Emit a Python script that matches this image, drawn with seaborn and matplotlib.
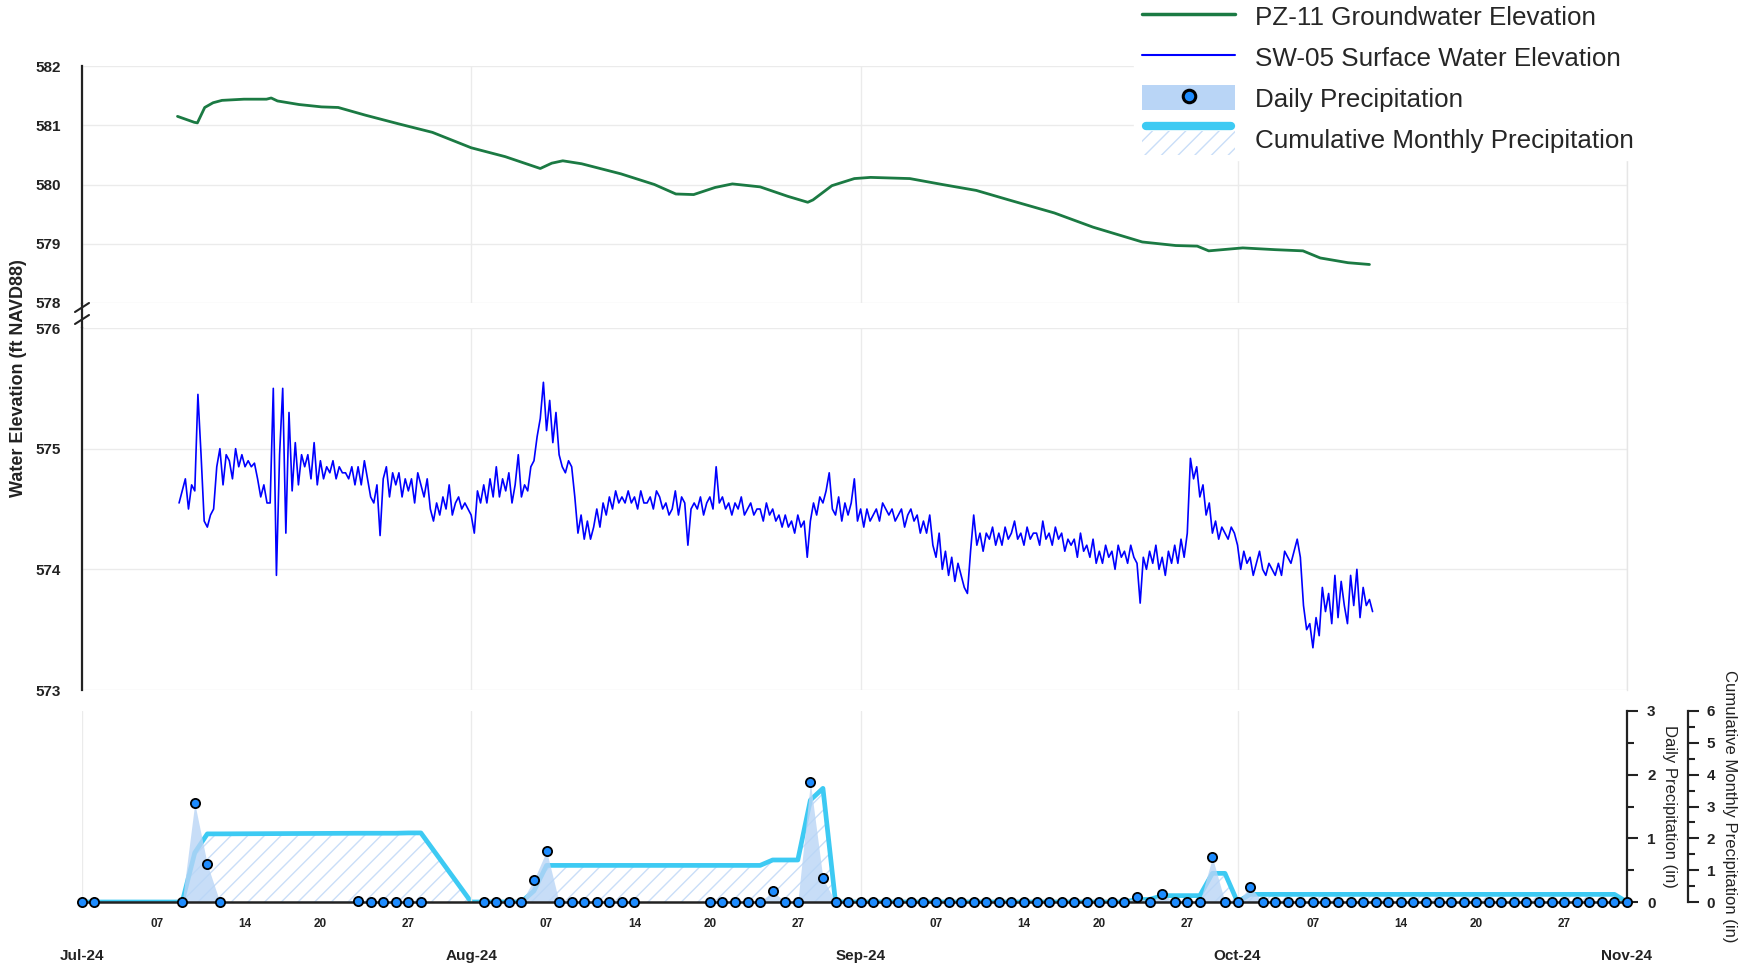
import matplotlib
matplotlib.use("Agg")
import matplotlib.pyplot as plt
import matplotlib.dates as mdates
from matplotlib.lines import Line2D
from matplotlib.patches import Patch, Rectangle
from matplotlib.legend_handler import HandlerBase
from matplotlib.ticker import MultipleLocator, FixedLocator
import seaborn as sns
import pandas as pd

# ---- PZ-11 groundwater elevation (ft NAVD88) ----
gw_time = ["07-08 15:00", "07-09 23:00", "07-10 05:00", "07-10 19:00", "07-11 11:00",
           "07-12 04:00", "07-13 22:00", "07-15 17:00", "07-16 02:00", "07-16 14:00",
           "07-18 07:00", "07-20 02:00", "07-21 10:00", "07-23 14:00", "07-26 07:00",
           "07-28 22:00", "08-01 00:00", "08-03 17:00", "08-06 12:00", "08-07 10:00",
           "08-08 07:00", "08-09 19:00", "08-12 22:00", "08-15 14:00", "08-17 07:00",
           "08-18 17:00", "08-20 10:00", "08-21 19:00", "08-24 00:00", "08-26 05:00",
           "08-27 19:00", "08-28 05:00", "08-29 17:00", "08-31 12:00", "09-01 19:00",
           "09-04 22:00", "09-07 12:00", "09-10 05:00", "09-12 19:00", "09-16 10:00",
           "09-19 12:00", "09-23 10:00", "09-26 02:00", "09-27 19:00", "09-28 17:00",
           "10-01 10:00", "10-04 00:00", "10-06 05:00", "10-07 14:00", "10-09 19:00",
           "10-11 12:00"]
gw_level = [581.15, 581.05, 581.04, 581.30, 581.38,
            581.42, 581.44, 581.44, 581.46, 581.41,
            581.35, 581.31, 581.30, 581.17, 581.02,
            580.88, 580.62, 580.47, 580.27, 580.36,
            580.40, 580.35, 580.18, 580.00, 579.84,
            579.83, 579.95, 580.01, 579.96, 579.80,
            579.70, 579.74, 579.98, 580.10, 580.12,
            580.10, 580.00, 579.90, 579.74, 579.52,
            579.28, 579.03, 578.97, 578.96, 578.88,
            578.93, 578.90, 578.88, 578.76, 578.68,
            578.65]

# ---- SW-05 surface water elevation, 6-hourly from Jul 8 18:00 ----
sw_start = "2024-07-08 18:00"
sw_level = [
    574.55,
    574.65, 574.75, 574.50, 574.70,   # Jul 9
    574.65, 575.45, 574.95, 574.40,   # Jul 10
    574.35, 574.45, 574.50, 574.85,   # Jul 11
    575.00, 574.70, 574.95, 574.90,   # Jul 12
    574.75, 575.00, 574.85, 574.95,   # Jul 13
    574.85, 574.90, 574.85, 574.88,   # Jul 14
    574.75, 574.60, 574.70, 574.55,   # Jul 15
    574.55, 575.50, 573.95, 574.95,   # Jul 16
    575.50, 574.30, 575.30, 574.65,   # Jul 17
    575.05, 574.70, 574.95, 574.85,   # Jul 18
    574.95, 574.75, 575.05, 574.70,   # Jul 19
    574.90, 574.75, 574.85, 574.80,   # Jul 20
    574.90, 574.75, 574.85, 574.80,   # Jul 21
    574.80, 574.75, 574.85, 574.70,   # Jul 22
    574.85, 574.70, 574.90, 574.75,   # Jul 23
    574.60, 574.55, 574.70, 574.28,   # Jul 24
    574.75, 574.85, 574.60, 574.80,   # Jul 25
    574.70, 574.80, 574.60, 574.75,   # Jul 26
    574.65, 574.75, 574.55, 574.80,   # Jul 27
    574.70, 574.60, 574.75, 574.50,   # Jul 28
    574.40, 574.55, 574.45, 574.60,   # Jul 29
    574.50, 574.70, 574.45, 574.55,   # Jul 30
    574.60, 574.50, 574.55, 574.50,   # Jul 31
    574.45, 574.30, 574.65, 574.55,   # Aug 1
    574.70, 574.55, 574.75, 574.60,   # Aug 2
    574.85, 574.60, 574.75, 574.65,   # Aug 3
    574.80, 574.55, 574.70, 574.95,   # Aug 4
    574.60, 574.70, 574.65, 574.85,   # Aug 5
    574.90, 575.10, 575.25, 575.55,   # Aug 6
    575.15, 575.40, 575.05, 575.30,   # Aug 7
    574.95, 574.85, 574.80, 574.90,   # Aug 8
    574.85, 574.60, 574.30, 574.45,   # Aug 9
    574.25, 574.40, 574.25, 574.35,   # Aug 10
    574.50, 574.35, 574.55, 574.45,   # Aug 11
    574.60, 574.50, 574.65, 574.55,   # Aug 12
    574.60, 574.55, 574.65, 574.55,   # Aug 13
    574.60, 574.50, 574.65, 574.55,   # Aug 14
    574.55, 574.60, 574.50, 574.65,   # Aug 15
    574.60, 574.50, 574.55, 574.45,   # Aug 16
    574.50, 574.65, 574.45, 574.60,   # Aug 17
    574.55, 574.20, 574.50, 574.55,   # Aug 18
    574.50, 574.60, 574.45, 574.55,   # Aug 19
    574.60, 574.50, 574.85, 574.55,   # Aug 20
    574.60, 574.50, 574.55, 574.45,   # Aug 21
    574.55, 574.50, 574.60, 574.45,   # Aug 22
    574.50, 574.55, 574.45, 574.50,   # Aug 23
    574.50, 574.40, 574.55, 574.45,   # Aug 24
    574.50, 574.40, 574.45, 574.35,   # Aug 25
    574.45, 574.35, 574.40, 574.30,   # Aug 26
    574.45, 574.35, 574.40, 574.10,   # Aug 27
    574.40, 574.55, 574.45, 574.60,   # Aug 28
    574.55, 574.65, 574.80, 574.50,   # Aug 29
    574.45, 574.60, 574.40, 574.55,   # Aug 30
    574.45, 574.55, 574.75, 574.40,   # Aug 31
    574.50, 574.35, 574.50, 574.40,   # Sep 1
    574.45, 574.50, 574.40, 574.55,   # Sep 2
    574.50, 574.45, 574.50, 574.40,   # Sep 3
    574.45, 574.50, 574.35, 574.45,   # Sep 4
    574.50, 574.40, 574.45, 574.30,   # Sep 5
    574.40, 574.30, 574.45, 574.20,   # Sep 6
    574.10, 574.30, 574.00, 574.15,   # Sep 7
    573.95, 574.10, 573.90, 574.05,   # Sep 8
    573.95, 573.85, 573.80, 574.15,   # Sep 9
    574.45, 574.20, 574.30, 574.15,   # Sep 10
    574.30, 574.25, 574.35, 574.20,   # Sep 11
    574.30, 574.20, 574.35, 574.25,   # Sep 12
    574.30, 574.40, 574.25, 574.30,   # Sep 13
    574.20, 574.35, 574.25, 574.30,   # Sep 14
    574.30, 574.20, 574.40, 574.25,   # Sep 15
    574.30, 574.20, 574.35, 574.25,   # Sep 16
    574.30, 574.15, 574.25, 574.20,   # Sep 17
    574.25, 574.10, 574.30, 574.15,   # Sep 18
    574.20, 574.10, 574.25, 574.05,   # Sep 19
    574.15, 574.05, 574.20, 574.10,   # Sep 20
    574.15, 574.00, 574.20, 574.10,   # Sep 21
    574.15, 574.05, 574.20, 574.10,   # Sep 22
    574.05, 573.72, 574.10, 574.00,   # Sep 23
    574.15, 574.05, 574.20, 574.00,   # Sep 24
    574.10, 573.95, 574.15, 574.05,   # Sep 25
    574.20, 574.05, 574.25, 574.10,   # Sep 26
    574.30, 574.92, 574.75, 574.85,   # Sep 27
    574.60, 574.70, 574.45, 574.55,   # Sep 28
    574.30, 574.40, 574.25, 574.35,   # Sep 29
    574.30, 574.25, 574.35, 574.30,   # Sep 30
    574.20, 574.00, 574.15, 574.05,   # Oct 1
    574.10, 573.95, 574.05, 574.15,   # Oct 2
    574.00, 573.95, 574.05, 574.00,   # Oct 3
    573.95, 574.05, 573.95, 574.15,   # Oct 4
    574.10, 574.05, 574.15, 574.25,   # Oct 5
    574.10, 573.70, 573.50, 573.55,   # Oct 6
    573.35, 573.60, 573.45, 573.85,   # Oct 7
    573.65, 573.80, 573.55, 573.95,   # Oct 8
    573.60, 573.90, 573.70, 573.55,   # Oct 9
    573.95, 573.70, 574.00, 573.60,   # Oct 10
    573.85, 573.70, 573.75, 573.65,   # Oct 11
]

# ---- daily precipitation (in) ----
precip_date = (["07-01", "07-02", "07-09", "07-10", "07-11", "07-12",
                "07-23", "07-24", "07-25", "07-26", "07-27", "07-28"]
               + ["08-%02d" % d for d in range(2, 15)]
               + ["08-%02d" % d for d in range(20, 32)]
               + ["09-%02d" % d for d in range(1, 31)]
               + ["10-%02d" % d for d in range(1, 32)]
               + ["11-01"])
precip_daily = ([0, 0, 0, 1.55, 0.59, 0, 0.02, 0, 0, 0, 0, 0]
                + [0, 0, 0, 0, 0.35, 0.80, 0, 0, 0, 0, 0, 0, 0]
                + [0, 0, 0, 0, 0, 0.17, 0, 0, 1.88, 0.37, 0, 0]
                + [0, 0, 0, 0, 0, 0, 0, 0, 0, 0, 0, 0, 0, 0, 0,
                   0, 0, 0, 0, 0, 0, 0, 0.08, 0, 0.12, 0, 0, 0, 0.70, 0]
                + [0, 0.24, 0, 0, 0, 0, 0, 0, 0, 0, 0, 0, 0, 0, 0, 0,
                   0, 0, 0, 0, 0, 0, 0, 0, 0, 0, 0, 0, 0, 0, 0]
                + [0])

# ---- cumulative monthly precipitation (in) ----
cum_date = (["07-01", "07-02", "07-09", "07-10", "07-11", "07-12",
             "07-23", "07-24", "07-25", "07-26", "07-27", "07-28"]
            + ["08-%02d" % d for d in range(1, 15)]
            + ["08-%02d" % d for d in range(20, 32)]
            + ["09-%02d" % d for d in range(1, 31)]
            + ["10-%02d" % d for d in range(1, 32)]
            + ["11-01"])
cum_monthly = ([0, 0, 0, 1.55, 2.14, 2.14, 2.16, 2.16, 2.16, 2.16, 2.17, 2.17]
               + [0, 0, 0, 0, 0, 0.35, 1.15, 1.15, 1.15, 1.15, 1.15, 1.15, 1.15, 1.15]
               + [1.15, 1.15, 1.15, 1.15, 1.15, 1.32, 1.32, 1.32, 3.20, 3.57, 0, 0]
               + [0, 0, 0, 0, 0, 0, 0, 0, 0, 0, 0, 0, 0, 0, 0,
                  0, 0, 0, 0, 0, 0, 0, 0.08, 0.08, 0.20, 0.20, 0.20, 0.20, 0.90, 0.90]
               + [0] + [0.24] * 30
               + [0])

day_ticks = [7, 14, 20, 27]

GREEN = "#1b7a43"
BLUE = "#0000ff"
DOT = "#1e8cff"
FILL = "#b9d5f6"
CUM = "#3dcaf3"
HATCH = "#c9def8"
GRID = "#ebebeb"
INK = "#222222"

sns.set_style("white")
plt.rcParams["font.family"] = ["Liberation Sans", "DejaVu Sans"]
plt.rcParams["font.weight"] = "bold"
plt.rcParams["hatch.linewidth"] = 1.0

gw_t = pd.to_datetime(["2024-" + s for s in gw_time])
sw_t = pd.date_range(sw_start, periods=len(sw_level), freq="6h")
pr_t = pd.to_datetime(["2024-" + s for s in precip_date])
cu_t = pd.to_datetime(["2024-" + s for s in cum_date])

W, H = 1739, 966
fig = plt.figure(figsize=(W / 100, H / 100), dpi=100)


def px_axes(left, top, right, bottom):
    return fig.add_axes([left / W, 1 - bottom / H, (right - left) / W, (bottom - top) / H])


ax_top = px_axes(81.7, 66, 1627, 303)
ax_mid = px_axes(81.7, 328, 1627, 690)
ax_bot = px_axes(81.7, 711, 1627, 902)

x0, x1 = pd.Timestamp("2024-07-01"), pd.Timestamp("2024-11-01")

# water level panels (broken axis)
sns.lineplot(x=gw_t, y=gw_level, ax=ax_top, color=GREEN, linewidth=2.0)
sns.lineplot(x=sw_t, y=sw_level, ax=ax_mid, color=BLUE, linewidth=1.2)

for ax, lo, hi in [(ax_top, 578, 582), (ax_mid, 573, 576)]:
    ax.set_xlim(x0, x1)
    ax.set_ylim(lo, hi)
    ax.set_xlabel("")
    ax.set_ylabel("")
    ax.yaxis.set_major_locator(MultipleLocator(1))
    ax.yaxis.set_minor_locator(MultipleLocator(0.5))
    ax.xaxis.set_major_locator(mdates.MonthLocator())
    ax.tick_params(axis="x", length=0, labelbottom=False)
    ax.tick_params(axis="y", which="major", direction="out", length=8.5, width=1.5,
                   labelsize=11, pad=6.5, colors=INK)
    ax.tick_params(axis="y", which="minor", direction="out", length=4.8, width=1.5, colors=INK)
    ax.grid(True, which="major", color=GRID, linewidth=1)
    ax.spines["left"].set_linewidth(1.6)
    ax.spines["left"].set_color(INK)
    ax.spines["right"].set_color("#e6e6e6")
    ax.spines["right"].set_linewidth(1)
    ax.spines["top"].set_visible(False)
    ax.spines["bottom"].set_visible(False)

# break marks on the shared left spine
fig.add_artist(Line2D([81.7 / W] * 2, [1 - 303 / H, 1 - 328 / H], color=INK, lw=1.6))
fig.add_artist(Line2D([1627 / W] * 2, [1 - 303 / H, 1 - 328 / H], color="#e6e6e6", lw=1))
for yb in (312, 324):
    fig.add_artist(Line2D([75 / W, 89 / W], [1 - yb / H, 1 - (yb - 9) / H], color=INK, lw=1.5))

# precipitation panel
ax_cum = ax_bot.twinx()
ax_bot.yaxis.tick_right()
ax_bot.set_zorder(ax_cum.get_zorder() + 1)
ax_bot.patch.set_visible(False)

ax_cum.fill_between(cu_t, cum_monthly, facecolor="none", edgecolor=HATCH, hatch="//", linewidth=0)
sns.lineplot(x=cu_t, y=cum_monthly, ax=ax_cum, color=CUM, linewidth=3.4)
ax_cum.lines[-1].set_solid_joinstyle("round")

ax_bot.fill_between(pr_t, precip_daily, color=FILL, alpha=0.8, linewidth=0)
sns.scatterplot(x=pr_t, y=precip_daily, ax=ax_bot, color=DOT, edgecolor="black",
                linewidth=1.3, s=44, zorder=5, clip_on=False)

ax_bot.set_xlim(x0, x1)
ax_bot.set_ylim(0, 3)
ax_cum.set_ylim(0, 6)
for ax in (ax_bot, ax_cum):
    ax.set_xlabel("")
    ax.set_ylabel("")
    ax.spines["left"].set_visible(False)
    ax.spines["top"].set_visible(False)
    ax.spines["right"].set_color(INK)
    ax.spines["right"].set_linewidth(1.6)
    ax.yaxis.set_minor_locator(MultipleLocator(0.5))
    ax.tick_params(axis="y", which="major", direction="out", length=8, width=1.5,
                   labelsize=11, colors=INK)
    ax.tick_params(axis="y", which="minor", direction="out", length=5, width=1.5, colors=INK)
ax_bot.yaxis.set_major_locator(MultipleLocator(1))
ax_cum.yaxis.set_major_locator(MultipleLocator(1))
ax_bot.tick_params(axis="y", pad=6.5)
ax_cum.tick_params(axis="y", pad=5.5)
ax_cum.spines["right"].set_position(("outward", 44))
ax_cum.spines["bottom"].set_visible(False)
ax_cum.grid(False)

ax_bot.spines["bottom"].set_linewidth(1.8)
ax_bot.spines["bottom"].set_color(INK)
ax_bot.xaxis.set_major_locator(mdates.MonthLocator())
ax_bot.xaxis.set_major_formatter(mdates.DateFormatter("%b-%y"))
minor_days = [pd.Timestamp(2024, m, d) for m in (7, 8, 9, 10) for d in day_ticks]
ax_bot.xaxis.set_minor_locator(FixedLocator(mdates.date2num(minor_days)))
ax_bot.xaxis.set_minor_formatter(mdates.DateFormatter("%d"))
ax_bot.tick_params(axis="x", which="major", direction="out", length=11, width=1.6,
                   labelsize=11, pad=22.5, colors=INK)
ax_bot.tick_params(axis="x", which="minor", direction="inout", length=5, width=1.3,
                   labelsize=8.5, pad=9, colors=INK)
ax_bot.grid(True, axis="x", which="major", color=GRID, linewidth=1)
ax_bot.grid(False, axis="y")

# axis titles
fig.text(19 / W, 1 - 378 / H, "Water Elevation (ft NAVD88)", rotation=90,
         ha="center", va="center", fontsize=13, fontweight="bold", color=INK)
fig.text(1670 / W, 1 - 806 / H, "Daily Precipitation (in)", rotation=270,
         ha="center", va="center", fontsize=12, fontweight="normal", color=INK)
fig.text(1730 / W, 1 - 806 / H, "Cumulative Monthly Precipitation (in)", rotation=270,
         ha="center", va="center", fontsize=12, fontweight="normal", color=INK)


class CumHandler(HandlerBase):
    def create_artists(self, legend, orig_handle, xdescent, ydescent, width, height, fontsize, trans):
        mid = height / 2 - ydescent
        left = -xdescent
        hatch = Rectangle((left, mid - 11.5), width, 17, facecolor="none", edgecolor=HATCH,
                          hatch="//", linewidth=0, transform=trans)
        line = Line2D([left + 3, left + width - 3], [mid + 9.5, mid + 9.5], color=CUM, lw=6,
                      solid_capstyle="round", transform=trans)
        return [hatch, line]


cum_handle = Patch()
handles = [Line2D([], [], color=GREEN, lw=2.5),
           Line2D([], [], color=BLUE, lw=1.5),
           (Patch(facecolor=FILL, edgecolor="none"),
            Line2D([], [], marker="o", ls="none", markerfacecolor=DOT,
                   markeredgecolor="black", markersize=9, markeredgewidth=2.2)),
           cum_handle]
labels = ["PZ-11 Groundwater Elevation", "SW-05 Surface Water Elevation",
          "Daily Precipitation", "Cumulative Monthly Precipitation"]
fig.legend(handles, labels, loc="upper left", bbox_to_anchor=(1134 / W, 1 + 4 / H),
           bbox_transform=fig.transFigure, frameon=True, facecolor="white", edgecolor="white",
           framealpha=1, fancybox=False, prop={"size": 18.7, "weight": "normal"},
           handlelength=3.6, handleheight=1.1, handletextpad=0.77, labelspacing=0.56,
           borderpad=0.3, borderaxespad=0, handler_map={cum_handle: CumHandler()})

fig.savefig("out.png", dpi=100, facecolor="white")
